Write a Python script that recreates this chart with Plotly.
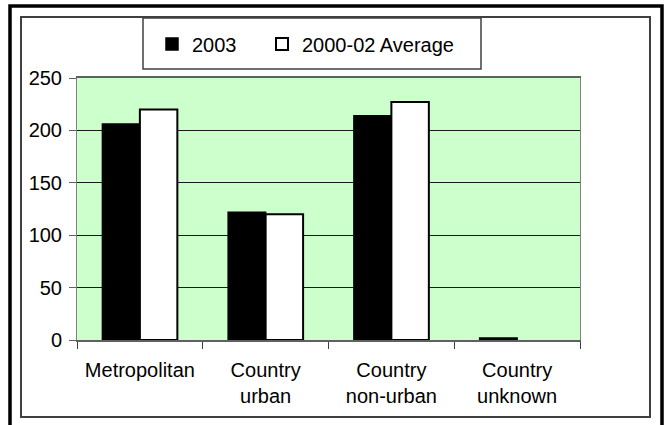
import plotly.graph_objects as go

categories = ["Metropolitan", "Country<br>urban", "Country<br>non-urban", "Country<br>unknown"]
values_2003 = [206, 122, 214, 2]
values_avg = [220, 120, 227, 0]
series_names = ["2003", "2000-02 Average"]
y_ticks = [0, 50, 100, 150, 200, 250]

W, H = 664, 425
L, R, T, B = 77, 580, 78, 340  # plot area in pixels


def px(x):
    return (x - L) / (R - L)


def py(y):
    return (B - y) / (B - T)


FONT = "Liberation Sans, Arial, sans-serif"
FS = 20

fig = go.Figure()
fig.add_trace(go.Bar(x=categories, y=values_2003, name=series_names[0], legend="legend",
                     marker=dict(color="black", line=dict(color="black", width=1.5))))
fig.add_trace(go.Bar(x=categories, y=values_avg, name=series_names[1], legend="legend2",
                     marker=dict(color="white",
                                 line=dict(color="black", width=[2 if v > 0 else 0 for v in values_avg]))))

shapes = [
    # outer black frame
    dict(type="rect", xref="paper", yref="paper", x0=px(10), x1=px(662), y0=py(440), y1=py(6),
         line=dict(color="black", width=3.5), layer="below"),
    # inner frame
    dict(type="rect", xref="paper", yref="paper", x0=px(21), x1=px(650), y0=py(417), y1=py(17),
         line=dict(color="#404040", width=2), layer="below"),
    # legend box
    dict(type="rect", xref="paper", yref="paper", x0=px(143), x1=px(481), y0=py(69), y1=py(18),
         line=dict(color="#404040", width=1.5), fillcolor="white", layer="below"),
]

legend_common = dict(orientation="h", xanchor="left", y=py(44), yanchor="middle",
                     bgcolor="rgba(0,0,0,0)", borderwidth=0,
                     font=dict(family=FONT, size=FS, color="black"))

fig.update_layout(
    width=W, height=H, autosize=False,
    margin=dict(l=L, r=W - R, t=T, b=H - B, pad=0),
    paper_bgcolor="white", plot_bgcolor="#CCFFCC",
    font=dict(family=FONT, size=FS, color="black"),
    barmode="group", bargap=0.404, bargroupgap=0,
    showlegend=True,
    legend=dict(x=px(152), **legend_common),
    legend2=dict(x=px(262), **legend_common),
    shapes=shapes,
    xaxis=dict(showline=True, linecolor="#606060", linewidth=1.5, mirror=True,
               ticks="outside", tickson="boundaries", ticklen=7, tickcolor="#404040", tickwidth=1,
               ticklabelstandoff=11,
               showgrid=False, tickfont=dict(family=FONT, size=FS, color="black")),
    yaxis=dict(range=[0, 250], tickvals=y_ticks, showline=True, linecolor="#808080", linewidth=1,
               mirror=True, ticks="outside", ticklen=7, tickcolor="#606060",
               ticklabelstandoff=3,
               showgrid=True, gridcolor="#1a1a1a", gridwidth=1, zeroline=False,
               tickfont=dict(family=FONT, size=FS, color="black")),
)

fig.write_html("out.html", config={"displayModeBar": False},
               post_script="document.body.style.margin='0';")
